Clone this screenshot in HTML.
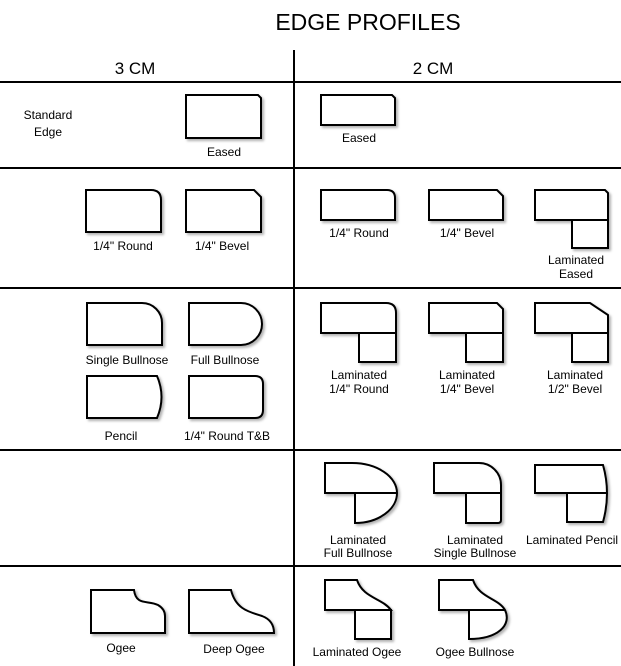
<!DOCTYPE html>
<html><head><style>
html,body{margin:0;padding:0;background:#fff;}
svg{display:block;}
text{font-family:"Liberation Sans",Arial,sans-serif;fill:#000;}
</style></head><body>
<svg width="621" height="666" viewBox="0 0 621 666" xmlns="http://www.w3.org/2000/svg">
<defs>
<filter id="sh" x="-10%" y="-10%" width="130%" height="130%">
<feDropShadow dx="2" dy="2" stdDeviation="1.2" flood-color="#000" flood-opacity="0.3"/>
</filter>
</defs>
<text x="368" y="30" font-size="23" text-anchor="middle">EDGE PROFILES</text>
<text x="135" y="74" font-size="17" text-anchor="middle">3 CM</text>
<text x="433" y="74" font-size="17" text-anchor="middle">2 CM</text>
<g stroke="#000" stroke-width="2">
<line x1="0" y1="82" x2="621" y2="82"/>
<line x1="0" y1="168" x2="621" y2="168"/>
<line x1="0" y1="288" x2="621" y2="288"/>
<line x1="0" y1="450" x2="621" y2="450"/>
<line x1="0" y1="566" x2="621" y2="566"/>
<line x1="294" y1="50" x2="294" y2="666"/>
</g>
<g fill="#fff" stroke="#000" stroke-width="2" filter="url(#sh)">
<!-- row1 -->
<path d="M186,95 H258 L261,98 V138 H186 Z"/>
<path d="M321,95 H392 L395,98 V125 H321 Z"/>
<!-- row2 -->
<path d="M86,190 H151 Q161,190 161,200 V232 H86 Z"/>
<path d="M186,190 H254 L261,197 V232 H186 Z"/>
<path d="M321,190 H387 Q395,190 395,198 V220 H321 Z"/>
<path d="M429,190 H497 L503,196 V220 H429 Z"/>
<path d="M535,190 H605 L608,193 V220 H535 Z"/>
<path d="M572,220 H608 V248 H572 Z"/>
<!-- row3 3cm -->
<path d="M87,303 H142 A20,20 0 0 1 162,323 V345 H87 Z"/>
<path d="M189,303 H241 A21,21 0 0 1 241,345 H189 Z"/>
<path d="M87,376 H157 Q166,397 157,418 H87 Z"/>
<path d="M189,376 H255 Q263,376 263,384 V410 Q263,418 255,418 H189 Z"/>
<!-- row3 2cm -->
<path d="M321,303 H386 Q396,303 396,313 V333 H321 Z"/>
<path d="M359,333 H396 V362 H359 Z"/>
<path d="M429,303 H497 L503,309 V333 H429 Z"/>
<path d="M466,333 H503 V362 H466 Z"/>
<path d="M535,303 H590 L608,315 V333 H535 Z"/>
<path d="M572,333 H608 V362 H572 Z"/>
<!-- row4 -->
<path d="M325,463 H352 A45,30 0 0 1 397,493 A42,30 0 0 1 355,523 V493 H325 Z"/>
<line x1="355" y1="493" x2="397" y2="493"/>
<path d="M434,463 H479 A22,22 0 0 1 501,485 V520 Q501,523 498,523 H466 V493 H434 Z"/>
<line x1="466" y1="493" x2="501" y2="493"/>
<path d="M535,465 H603 Q611,493 603,522 H567 V493 H535 Z"/>
<line x1="567" y1="493" x2="607" y2="493"/>
<!-- row5 -->
<path d="M91,590 H134 C136,606 148,600 158,605 C163,608 165,612 165,616 V633 H91 Z"/>
<path d="M189,590 H231 C236,610 250,612 262,616 C270,619 274,625 274,633 H189 Z"/>
<path d="M325,580 H357 C363,598 382,598 391,610 H325 Z"/>
<path d="M355,610 H391 V639 H355 Z"/>
<path d="M439,580 H473 C479,598 498,598 505,610 C512,625 498,639 469,639 V610 H439 Z"/>
<line x1="469" y1="610" x2="505" y2="610"/>
</g>
<g font-size="12" text-anchor="middle">
<text x="48" y="119">Standard</text>
<text x="48" y="136">Edge</text>
<text x="224" y="156">Eased</text>
<text x="359" y="142">Eased</text>
<text x="123" y="250">1/4" Round</text>
<text x="222" y="250">1/4" Bevel</text>
<text x="359" y="237">1/4" Round</text>
<text x="467" y="237">1/4" Bevel</text>
<text x="576" y="264">Laminated</text>
<text x="576" y="278">Eased</text>
<text x="127" y="364">Single Bullnose</text>
<text x="225" y="364">Full Bullnose</text>
<text x="121" y="440">Pencil</text>
<text x="227" y="440">1/4" Round T&amp;B</text>
<text x="359" y="379">Laminated</text>
<text x="359" y="393">1/4" Round</text>
<text x="467" y="379">Laminated</text>
<text x="467" y="393">1/4" Bevel</text>
<text x="575" y="379">Laminated</text>
<text x="575" y="393">1/2" Bevel</text>
<text x="358" y="544">Laminated</text>
<text x="358" y="557">Full Bullnose</text>
<text x="475" y="544">Laminated</text>
<text x="475" y="557">Single Bullnose</text>
<text x="572" y="544">Laminated Pencil</text>
<text x="121" y="652">Ogee</text>
<text x="234" y="653">Deep Ogee</text>
<text x="357" y="656">Laminated Ogee</text>
<text x="475" y="656">Ogee Bullnose</text>
</g>
</svg>
</body></html>
